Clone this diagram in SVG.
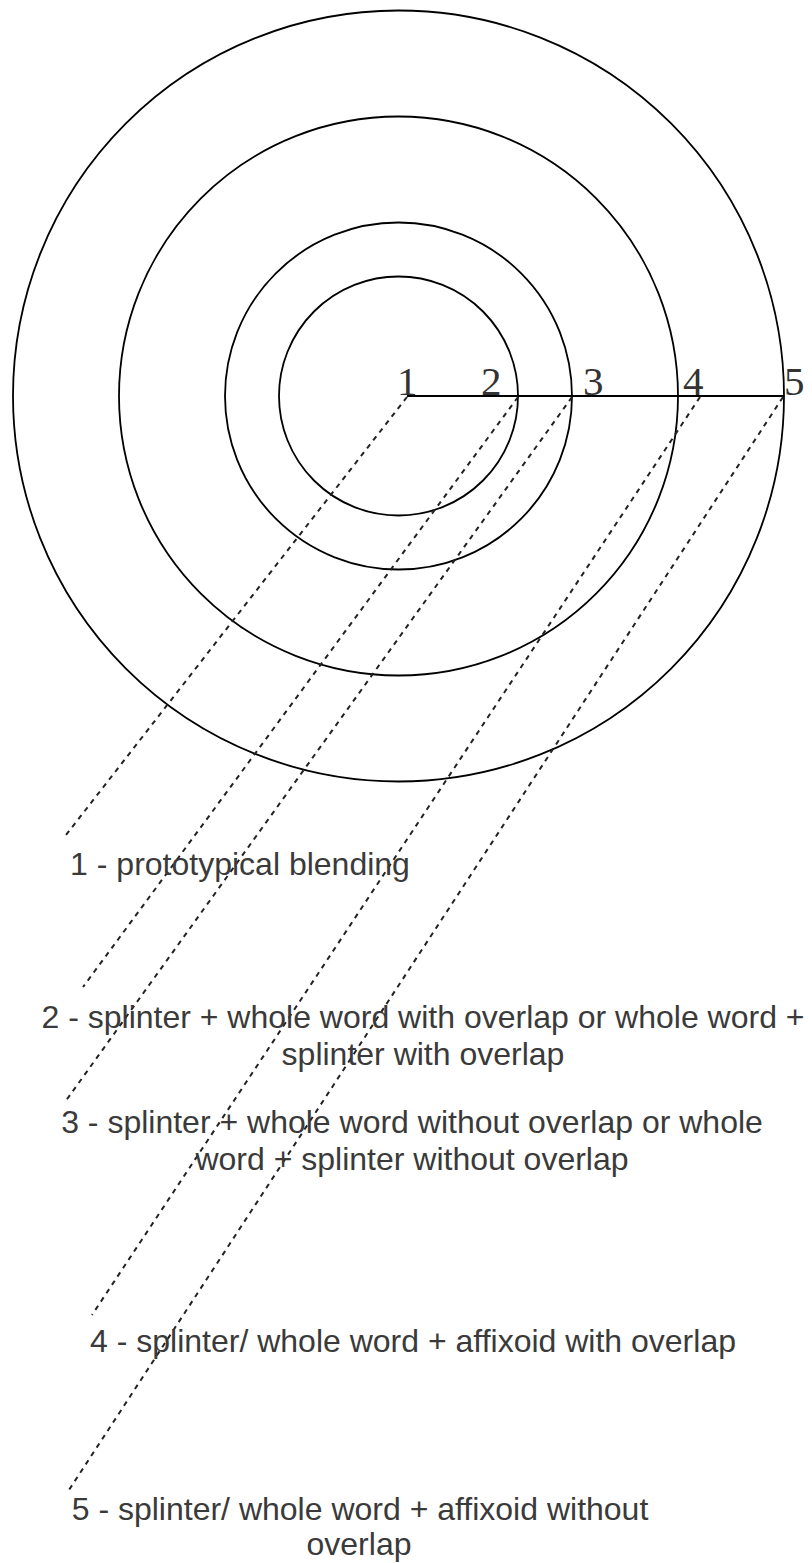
<svg xmlns="http://www.w3.org/2000/svg" width="812" height="1563" viewBox="0 0 812 1563">
<style>
.ring{fill:none;stroke:#000;stroke-width:1.8}
.axis{stroke:#000;stroke-width:1.8}
.dash{stroke:#222;stroke-width:2;stroke-dasharray:5 5;fill:none}
.num{font-family:"Liberation Serif",serif;font-size:41px;fill:#333}
.lbl{font-family:"Liberation Sans",Arial,sans-serif;font-size:32px;fill:#3a3a3a;text-anchor:middle}
</style>
<rect width="812" height="1563" fill="#fff"/>
<g id="circles">
<circle id="ring5" class="ring" cx="398.5" cy="396" r="385.5"/>
<circle id="ring4" class="ring" cx="398.5" cy="396" r="279.5"/>
<circle id="ring3" class="ring" cx="398.5" cy="396" r="173.5"/>
<circle id="ring2" class="ring" cx="398.5" cy="396" r="119.5"/>
</g>
<g id="axis">
<line class="axis" x1="407" y1="396" x2="784" y2="396"/>
<text class="num" x="397" y="395">1</text>
<text class="num" x="481" y="395">2</text>
<text class="num" x="583" y="395">3</text>
<text class="num" x="683" y="395">4</text>
<text class="num" x="784" y="395">5</text>
</g>
<g id="connectors">
<line class="dash" x1="407" y1="397" x2="66" y2="835"/>
<line class="dash" x1="518" y1="397" x2="83" y2="987"/>
<line class="dash" x1="572" y1="397" x2="65" y2="1102"/>
<line class="dash" x1="700" y1="397" x2="92" y2="1315"/>
<line class="dash" x1="783" y1="397" x2="67" y2="1493"/>
</g>
<g id="label1"><text class="lbl" x="240" y="875">1 - prototypical blending</text></g>
<g id="label2"><text class="lbl" x="423" y="1028">2 - splinter + whole word with overlap or whole word +</text><text class="lbl" x="423" y="1065">splinter with overlap</text></g>
<g id="label3"><text class="lbl" x="412" y="1133">3 - splinter + whole word without overlap or whole</text><text class="lbl" x="412" y="1170">word + splinter without overlap</text></g>
<g id="label4"><text class="lbl" x="413" y="1352">4 - splinter/ whole word + affixoid with overlap</text></g>
<g id="label5"><text class="lbl" x="360" y="1520">5 - splinter/ whole word + affixoid without</text><text class="lbl" x="359" y="1555">overlap</text></g>
</svg>
